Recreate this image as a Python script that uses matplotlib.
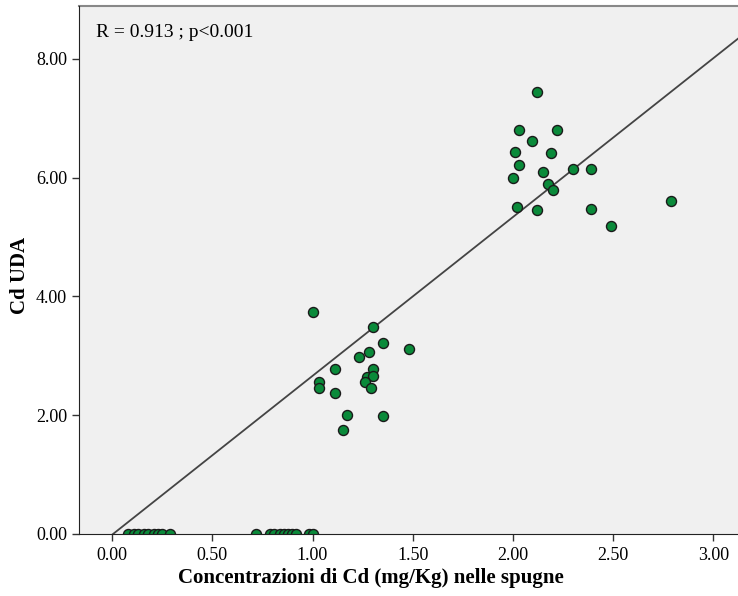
import numpy as np
import matplotlib.pyplot as plt

# Cd in sponges (x) vs Cd UDA (y)
x_high = [2.12, 2.03, 2.22, 2.095, 2.01, 2.19, 2.03, 2.15, 2.30, 2.39, 2.00,
          2.175, 2.20, 2.02, 2.12, 2.39, 2.49, 2.79]
y_high = [7.45, 6.80, 6.80, 6.61, 6.44, 6.41, 6.21, 6.10, 6.14, 6.14, 5.99,
          5.90, 5.80, 5.50, 5.46, 5.48, 5.19, 5.60]

x_mid = [1.00, 1.30, 1.35, 1.48, 1.28, 1.23, 1.11, 1.30, 1.27, 1.30, 1.26,
         1.03, 1.03, 1.29, 1.11, 1.17, 1.35, 1.15]
y_mid = [3.74, 3.48, 3.22, 3.12, 3.06, 2.98, 2.78, 2.78, 2.64, 2.66, 2.56,
         2.56, 2.45, 2.45, 2.37, 2.01, 1.98, 1.75]

x_zero = [0.08, 0.11, 0.13, 0.16, 0.18, 0.21, 0.23, 0.25, 0.29,
          0.72, 0.79, 0.81, 0.84, 0.86, 0.88, 0.90, 0.92, 0.98, 1.00]
y_zero = [0.0] * len(x_zero)

fit_slope = 2.675
fit_intercept = -0.013

xticks = [0.0, 0.5, 1.0, 1.5, 2.0, 2.5, 3.0]
yticks = [0.0, 2.0, 4.0, 6.0, 8.0]

x_all = x_high + x_mid + x_zero
y_all = y_high + y_mid + y_zero

plt.rcParams['font.family'] = ['Liberation Serif', 'DejaVu Serif']

fig = plt.figure(figsize=(7.38, 5.96), dpi=100)
ax = fig.add_axes([79 / 738, 1 - 534 / 596, 1 - 79 / 738 + 0.002, (534 - 6) / 596])
ax.set_facecolor('#f0f0f0')

xmin, xmax = -0.165, 3.13
ax.set_xlim(xmin, xmax)
ax.set_ylim(0, 8.89)

xl = np.array([xmin, xmax])
ax.plot(xl, fit_intercept + fit_slope * xl, color='#444444', lw=1.3, zorder=2)

pts = ax.scatter(x_all, y_all, s=52, c='#0a8a3a', edgecolors='#1a1a1a',
                 linewidths=1.0, zorder=3)
pts.set_clip_path(ax.patch)

ax.set_xticks(xticks)
ax.set_xticklabels(['%.2f' % v for v in xticks])
ax.set_yticks(yticks)
ax.set_yticklabels(['%.2f' % v for v in yticks])
ax.tick_params(labelsize=13, length=5, width=1, color='#333333')
ax.tick_params(axis='x', pad=4)

ax.spines['right'].set_visible(False)
ax.spines['top'].set_color('#888888')
ax.spines['top'].set_linewidth(1.5)
for s in ['left', 'bottom']:
    ax.spines[s].set_color('#222222')
    ax.spines[s].set_zorder(4)

ax.set_xlabel('Concentrazioni di Cd (mg/Kg) nelle spugne', fontsize=15,
              fontweight='bold')
ax.xaxis.set_label_coords(0.442, -0.064)
ax.set_ylabel('Cd UDA', fontsize=15, fontweight='bold')
ax.yaxis.set_label_coords(-0.074, 0.49)

ax.text(0.025, 0.95, 'R = 0.913 ; p<0.001', transform=ax.transAxes,
        fontsize=14, ha='left', va='center')

fig.savefig('out.png', dpi=100)
